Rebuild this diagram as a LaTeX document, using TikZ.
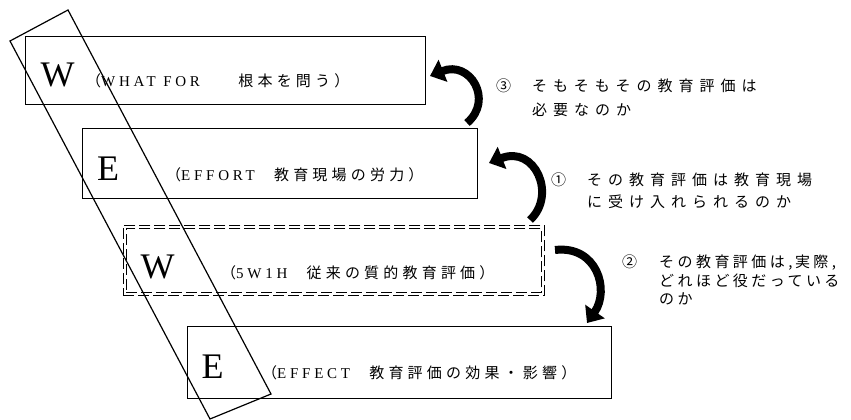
\documentclass[tikz,border=0pt]{standalone}
\usepackage{fontspec}
\setmainfont{Liberation Serif}
\newfontfamily\jp[LetterSpace=28]{Noto Sans CJK JP}
\newfontfamily\jpwide[LetterSpace=40]{Noto Sans CJK JP}
\newfontfamily\jpnarrow[LetterSpace=23]{Noto Sans CJK JP}
\newfontfamily\lat[LetterSpace=25]{Liberation Serif}
\usetikzlibrary{arrows.meta}
\begin{document}
\begin{tikzpicture}[x=1pt,y=-1pt,
  box/.style={draw, line width=1.2pt, anchor=north west, inner sep=0pt},
  dbox/.style={draw, line width=0.9pt, dash pattern=on 11pt off 4pt, anchor=north west, inner sep=0pt},
  big/.style={font=\fontsize{36}{36}\selectfont, anchor=base, inner sep=0pt},
  lab/.style={font=\fontsize{15}{15}\selectfont, anchor=base west, inner sep=0pt},
  bigarrow/.style={line width=8pt, -{Triangle[length=14pt,width=23pt]}}
]
\fill[white] (0,0) rectangle (851,420);
\useasboundingbox (0,0) rectangle (851,420);

% boxes
\node[box, minimum width=400pt, minimum height=68pt] (b1) at (25,36) {};
\node[box, minimum width=395pt, minimum height=70pt] (b2) at (82,128) {};
\node[dbox, minimum width=421pt, minimum height=70pt] (b3) at (123,225) {};
\node[dbox, minimum width=415pt, minimum height=64pt] (b3i) at (126,228) {};
\node[box, minimum width=424pt, minimum height=72pt] (b4) at (187,326) {};

% big letters
\node[big] (w1) at (57.5,86) {W};
\node[big] (e2) at (108,180) {E};
\node[big] (w3) at (157.5,278) {W};
\node[big] (e4) at (212.5,378) {E};

% box texts
\node[lab] (l1) at (86,86) {{\jp （}{\lat WHAT FOR}{\jp 　　根本を問う）}};
\node[lab] (l2) at (166,180) {{\jp （}{\lat EFFORT}{\jp 　教育現場の労力）}};
\node[lab] (l3) at (221,278) {{\jp （}{\lat 5W1H}{\jp 　従来の質的教育評価）}};
\node[lab] (l4) at (262,378) {{\jp （}{\lat EFFECT}{\jp 　教育評価の効果・影響）}};

% tilted frame
\draw[line width=1.2pt] (68,10) -- (271,394) -- (210,419) -- (10,41) -- cycle;

% notes
\node[lab] (n3) at (496,91) {\jpwide ③};
\node[lab] (n3a) at (532,91) {\jpwide そもそもその教育評価は};
\node[lab] (n3b) at (532,115) {\jpwide 必要なのか};

\node[lab] (n1) at (551,185) {\jpwide ①};
\node[lab] (n1a) at (587,185) {\jpwide その教育評価は教育現場};
\node[lab] (n1b) at (587,207) {\jpwide に受け入れられるのか};

\node[lab] (n2) at (622,267) {\jpnarrow ②};
\node[lab] (n2a) at (659,267) {\jpnarrow その教育評価は,\,実際,};
\node[lab] (n2b) at (659,286) {\jpnarrow どれほど役だっている};
\node[lab] (n2c) at (659,304) {\jpnarrow のか};

% arrows
\coordinate (t3) at (467,123);
\coordinate (h3) at (430,76);
\coordinate (t1) at (530,220);
\coordinate (h1) at (489,163);
\coordinate (t2) at (555,250);
\coordinate (h2) at (587,323);
\draw[bigarrow] (t3) .. controls (494,100) and (470,60) .. (h3);
\draw[bigarrow] (t1) .. controls (557,195) and (535,145) .. (h1);
\draw[bigarrow] (t2) .. controls (597,245) and (610,290) .. (h2);
\end{tikzpicture}
\end{document}
